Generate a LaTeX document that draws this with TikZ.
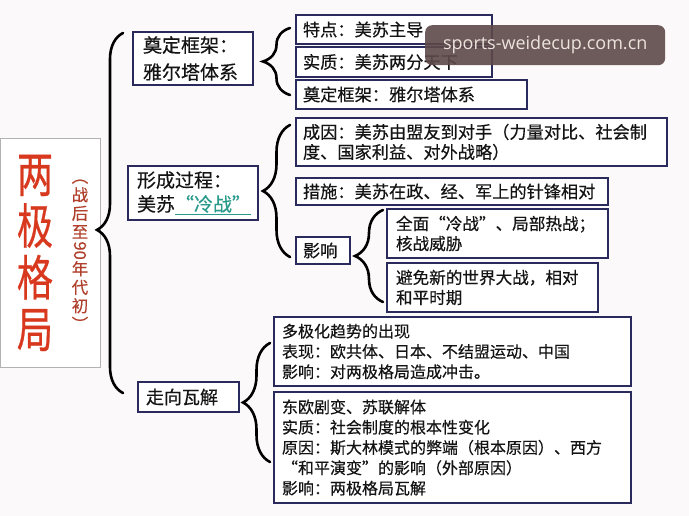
\documentclass[tikz,border=0pt]{standalone}
\usepackage{fontspec}
\setmainfont{Noto Sans CJK SC}[FakeBold=0.4]
\newfontfamily\titlefont{Noto Sans CJK SC}[FakeBold=0.6]
\newfontfamily\wmfont{Open Sans}
\usepackage{graphicx}
\usetikzlibrary{decorations.pathreplacing}
\definecolor{bgc}{HTML}{FCF9FA}
\definecolor{navy}{HTML}{2A2A5C}
\definecolor{titlered}{HTML}{D8391E}
\definecolor{subred}{HTML}{B0402C}
\definecolor{lzteal}{HTML}{2A9A8C}
\definecolor{wmbg}{HTML}{5E4949}
\definecolor{wmtext}{HTML}{ECE4DC}
\definecolor{ink}{HTML}{141414}
\begin{document}
\begin{tikzpicture}[x=1pt,y=-1pt,
  bx/.style={draw=navy, line width=1.4pt, fill=white, inner ysep=0pt, outer sep=0pt,
             align=left, anchor=north west, text=ink},
  big/.style={font=\fontsize{19}{27}\selectfont},
  mid/.style={font=\fontsize{17.2}{20}\selectfont},
  sml/.style={font=\fontsize{16.6}{20}\selectfont},
  low/.style={font=\fontsize{16}{20.3}\selectfont},
  brc/.style={draw=black, line width=2.6pt, line cap=round, decorate}]
\fill[bgc] (0,0) rectangle (689,516);
\useasboundingbox (0,0) rectangle (689,516);

% title
\node[draw=gray!60, line width=0.8pt, fill=white, minimum width=100pt, minimum height=229pt,
      anchor=north west, outer sep=0pt] (tbox) at (0,138) {};
\node[text=titlered, font=\titlefont\fontsize{44}{47}\selectfont, align=center, xscale=0.82, yscale=1.1,
      inner sep=0pt] (title) at (35,253) {两\\极\\格\\局};
\node[text=subred, font=\fontsize{16.5}{18.5}\selectfont, align=center, inner sep=0pt] (sub) at (80,255)
  {︵\\战\\后\\至\\\rotatebox[origin=c]{-90}{90}\\年\\代\\初\\︶};

% level 1
\node[bx, big, inner xsep=10pt, minimum width=120pt, minimum height=53pt, text width=100pt] (frame) at (133,32) {奠定框架：\\雅尔塔体系};
\node[bx, inner xsep=9pt, minimum width=130pt, minimum height=54pt, text width=112pt,
      font=\fontsize{19}{24}\selectfont] (form) at (128,166)
      {形成过程：\\美苏{\color{lzteal}\underline{“冷战”}}};
\node[bx, inner xsep=8pt, minimum width=101pt, minimum height=30pt, text width=85pt,
      font=\fontsize{18}{20}\selectfont] (coll) at (138,382) {走向瓦解};

% frame children
\node[bx, mid, inner xsep=7pt, minimum width=196pt, minimum height=29pt, text width=182pt] (t1) at (296,15) {特点：美苏主导};
\node[bx, mid, inner xsep=7pt, minimum width=196pt, minimum height=30pt, text width=182pt] (t2) at (296,47) {实质：美苏两分天下};
\node[bx, mid, inner xsep=7pt, minimum width=231pt, minimum height=29pt, text width=217pt] (t3) at (296,80) {奠定框架：雅尔塔体系};

% form children
\node[bx, mid, inner xsep=7pt, minimum width=371pt, minimum height=48pt, text width=357pt] (c1) at (296,118)
  {成因：美苏由盟友到对手（力量对比、社会制\\度、国家利益、对外战略）};
\node[bx, mid, inner xsep=7pt, minimum width=312pt, minimum height=27pt, text width=298pt] (c2) at (296,178)
  {措施：美苏在政、经、军上的针锋相对};
\node[bx, mid, inner xsep=7pt, minimum width=54pt, minimum height=27pt, text width=40pt] (c3) at (296,237) {影响};
\node[bx, sml, inner xsep=9pt, minimum width=221pt, minimum height=49pt, text width=203pt] (d1) at (387,209)
  {全面“冷战”、局部热战；\\核战威胁};
\node[bx, sml, inner xsep=9pt, minimum width=211pt, minimum height=49pt, text width=193pt] (d2) at (387,263)
  {避免新的世界大战，相对\\和平时期};

% coll children
\node[bx, low, inner xsep=8pt, minimum width=357pt, minimum height=69pt, text width=341pt] (e1) at (274,317)
  {多极化趋势的出现\\表现：欧共体、日本、不结盟运动、中国\\影响：对两极格局造成冲击。};
\node[bx, low, inner xsep=8pt, minimum width=357pt, minimum height=111pt, text width=341pt] (e2) at (274,392)
  {东欧剧变、苏联解体\\实质：社会制度的根本性变化\\原因：斯大林模式的弊端（根本原因）、西方\\“和平演变”的影响（外部原因）\\影响：两极格局瓦解};

% braces
\coordinate (b0s) at (123,393); \coordinate (b0e) at (123,33);
\draw[brc, decoration={brace, amplitude=26pt, aspect=0.453}] (b0s) -- (b0e);
\coordinate (b1s) at (290,95); \coordinate (b1e) at (290,28);
\draw[brc, decoration={brace, amplitude=27pt}] (b1s) -- (b1e);
\coordinate (b2s) at (290,257); \coordinate (b2e) at (290,125);
\draw[brc, decoration={brace, amplitude=27pt}] (b2s) -- (b2e);
\coordinate (b3s) at (383,302); \coordinate (b3e) at (383,210);
\draw[brc, decoration={brace, amplitude=28pt}] (b3s) -- (b3e);
\coordinate (b4s) at (270,462); \coordinate (b4e) at (270,343);
\draw[brc, decoration={brace, amplitude=27pt}] (b4s) -- (b4e);

% watermark
\node[fill=wmbg, fill opacity=0.9, text opacity=1, rounded corners=7pt, minimum width=240pt,
      minimum height=40pt, anchor=north west, inner sep=0pt, text=wmtext,
      font=\wmfont\fontsize{18}{20}\selectfont] (wm) at (425,25) {sports-weidecup.com.cn};
\end{tikzpicture}
\end{document}
